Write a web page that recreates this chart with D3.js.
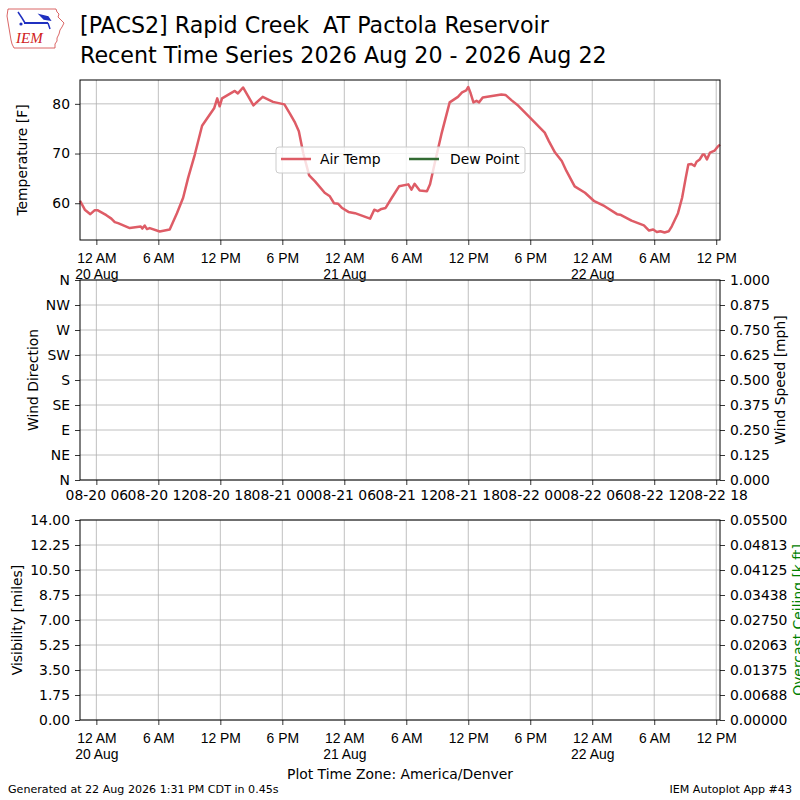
<!DOCTYPE html>
<html>
<head>
<meta charset="utf-8">
<script src="https://cdn.jsdelivr.net/npm/d3@7"></script>
<style>
body { margin: 0; background: #fff; }
svg { font-family: "DejaVu Sans", sans-serif; }
</style>
</head>
<body>
<svg id="chart" width="800" height="800"></svg>
<script>
// Air temperature obs, plot-local time (America/Denver)
var tempTimes = [
  "08-19 22:25", "08-19 22:53", "08-19 23:25", "08-19 23:51", "08-20 00:06", "08-20 00:58",
  "08-20 01:27", "08-20 01:47", "08-20 02:06", "08-20 03:14", "08-20 04:18", "08-20 04:27",
  "08-20 04:41", "08-20 04:54", "08-20 05:10", "08-20 06:08", "08-20 07:06", "08-20 07:48",
  "08-20 08:24", "08-20 08:53", "08-20 09:31", "08-20 10:14", "08-20 11:24", "08-20 11:42",
  "08-20 11:56", "08-20 12:10", "08-20 13:24", "08-20 13:42", "08-20 14:12", "08-20 15:12",
  "08-20 16:06", "08-20 17:06", "08-20 18:12", "08-20 18:45", "08-20 19:14", "08-20 19:36",
  "08-20 20:02", "08-20 20:36", "08-20 21:10", "08-20 22:06", "08-20 22:36", "08-20 23:00",
  "08-20 23:24", "08-20 23:45", "08-21 00:24", "08-21 01:02", "08-21 02:30", "08-21 02:54",
  "08-21 03:14", "08-21 03:36", "08-21 04:00", "08-21 04:36", "08-21 05:18", "08-21 06:12",
  "08-21 06:30", "08-21 06:48", "08-21 07:18", "08-21 08:00", "08-21 08:18", "08-21 08:48",
  "08-21 09:24", "08-21 10:12", "08-21 11:00", "08-21 11:24", "08-21 11:48", "08-21 12:00",
  "08-21 12:12", "08-21 12:30", "08-21 12:48", "08-21 13:03", "08-21 13:24", "08-21 15:12",
  "08-21 15:36", "08-21 16:12", "08-21 16:51", "08-21 18:00", "08-21 19:24", "08-21 19:48",
  "08-21 20:24", "08-21 21:03", "08-21 21:30", "08-21 22:18", "08-21 23:18", "08-22 00:12",
  "08-22 01:12", "08-22 02:24", "08-22 02:42", "08-22 03:48", "08-22 05:00", "08-22 05:30",
  "08-22 05:54", "08-22 06:15", "08-22 06:36", "08-22 07:00", "08-22 07:24", "08-22 07:42",
  "08-22 08:18", "08-22 08:42", "08-22 09:03", "08-22 09:18", "08-22 09:36", "08-22 09:54",
  "08-22 10:06", "08-22 10:24", "08-22 10:42", "08-22 10:51", "08-22 11:06", "08-22 11:24",
  "08-22 11:51", "08-22 12:12", "08-22 12:22"
];
var tempValues = [
  60.5, 58.7, 57.8, 58.6, 58.6, 57.6,
  56.9, 56.2, 56.0, 55.0, 55.3, 54.9,
  55.5, 54.8, 55.0, 54.3, 54.7, 58.0,
  61.1, 65.1, 69.7, 75.6, 79.1, 81.1,
  79.5, 81.1, 82.6, 82.1, 83.3, 79.7,
  81.4, 80.4, 79.9, 78.0, 76.2, 74.5,
  70.0, 65.6, 64.4, 62.1, 61.4, 60.0,
  59.9, 59.1, 58.25, 58.0, 56.9, 58.7,
  58.4, 58.85, 59.05, 61.1, 63.4, 63.8,
  62.75, 63.9, 62.55, 62.4, 63.8, 68.5,
  73.9, 80.3, 81.4, 82.3, 82.7, 83.4,
  82.3, 80.3, 80.6, 80.3, 81.3, 81.9,
  81.8, 80.7, 79.6, 77.2, 74.2, 72.5,
  70.2, 68.5, 66.5, 63.4, 62.1, 60.4,
  59.4, 57.8, 57.7, 56.5, 55.55, 54.5,
  54.7, 54.2, 54.35, 54.1, 54.35, 55.35,
  58.0, 61.1, 65.1, 67.8, 67.9, 67.5,
  68.35, 68.8, 69.8, 69.8, 68.8, 70.2,
  70.6, 71.5, 71.8
];
// no dew point reported
var dewTimes = [];
var dewValues = [];

var tempTicks = [60, 70, 80];
var dirTicks = [0, 45, 90, 135, 180, 225, 270, 315, 360];
var dirLabels = ["N", "NE", "E", "SE", "S", "SW", "W", "NW", "N"];
var speedTicks = [0, 0.125, 0.25, 0.375, 0.5, 0.625, 0.75, 0.875, 1.0];
var visTicks = [0, 1.75, 3.5, 5.25, 7, 8.75, 10.5, 12.25, 14];
var ceilTicks = [0, 0.006875, 0.01375, 0.020625, 0.0275, 0.034375, 0.04125, 0.048125, 0.055];
var ceilLabels = ["0.00000", "0.00688", "0.01375", "0.02063", "0.02750", "0.03438", "0.04125", "0.04813", "0.05500"];

var parse = d3.utcParse("%Y-%m-%d %H:%M");
var toDate = function(s){ return parse("2026-" + s); };
var temps = tempTimes.map(function(t, i){ return {t: toDate(t), v: tempValues[i]}; });
var dews = dewTimes.map(function(t, i){ return {t: toDate(t), v: dewValues[i]}; });

var svg = d3.select("#chart");
var L = 80, R = 720, FS = 13.9;
var gridColor = "#b0b0b0";

var x = d3.scaleUtc().domain(d3.extent(temps, function(d){ return d.t; })).range([L, R]);
var xTicks = d3.utcHour.every(6).range(toDate("08-20 00:00"), toDate("08-22 12:01"));

var yTemp = d3.scaleLinear().domain([52.6, 84.8]).range([240, 80]);
var yDir = d3.scaleLinear().domain([0, 360]).range([480, 280]);
var ySpeed = d3.scaleLinear().domain([0, 1]).range([480, 280]);
var yVis = d3.scaleLinear().domain([0, 14]).range([720, 520]);
var yCeil = d3.scaleLinear().domain([0, 0.055]).range([720, 520]);

function grid(yScale, yValues, top, bottom){
  var g = svg.append("g").attr("stroke", gridColor).attr("stroke-width", 0.8);
  g.selectAll("line.v").data(xTicks).enter().append("line")
    .attr("x1", function(d){ return x(d); }).attr("x2", function(d){ return x(d); })
    .attr("y1", top).attr("y2", bottom);
  g.selectAll("line.h").data(yValues).enter().append("line")
    .attr("x1", L).attr("x2", R)
    .attr("y1", function(d){ return yScale(d); }).attr("y2", function(d){ return yScale(d); });
}

function styleAxis(g){
  g.select(".domain").remove();
  g.selectAll(".tick line").attr("stroke", "#000").attr("stroke-width", 0.8);
  g.selectAll(".tick text").attr("fill", "#000").attr("font-size", FS)
    .attr("font-family", "DejaVu Sans");
}

function spine(top, bottom){
  svg.append("rect").attr("x", L).attr("y", top).attr("width", R - L).attr("height", bottom - top)
    .attr("fill", "none").attr("stroke", "#000").attr("stroke-width", 1);
}

function localTimeAxis(bottom){
  var g = svg.append("g").attr("transform", "translate(0," + bottom + ")")
    .call(d3.axisBottom(x).tickValues(xTicks).tickSize(5).tickPadding(5).tickFormat(""));
  styleAxis(g);
  g.selectAll(".tick").append("text")
    .attr("fill", "#000").attr("font-size", FS).attr("text-anchor", "middle")
    .each(function(d){
      var t = d3.select(this);
      t.append("tspan").attr("x", 0).attr("y", 23).text(d3.utcFormat("%-I %p")(d));
      if (d.getUTCHours() === 0) {
        t.append("tspan").attr("x", 0).attr("y", 39).text(d3.utcFormat("%-d %b")(d));
      }
    });
}

function label(text, px, py, color){
  svg.append("text").attr("transform", "translate(" + px + "," + py + ") rotate(-90)")
    .attr("text-anchor", "middle").attr("font-size", FS).attr("fill", color || "#000").text(text);
}

// --- Temperature panel
grid(yTemp, tempTicks, 80, 240);
var line = d3.line().x(function(d){ return x(d.t); }).y(function(d){ return yTemp(d.v); });
svg.append("path").datum(temps).attr("d", line).attr("fill", "none")
  .attr("stroke", "#de5c66").attr("stroke-width", 2.5).attr("stroke-linejoin", "round");
svg.append("path").datum(dews).attr("d", line).attr("fill", "none")
  .attr("stroke", "#336b33").attr("stroke-width", 2.5);
spine(80, 240);
styleAxis(svg.append("g").attr("transform", "translate(" + L + ",0)")
  .call(d3.axisLeft(yTemp).tickValues(tempTicks).tickSize(5).tickPadding(5)));
localTimeAxis(240);
label("Temperature [F]", 27, 160);

var lg = svg.append("g");
lg.append("rect").attr("x", 276).attr("y", 147).attr("width", 249).attr("height", 26).attr("rx", 3)
  .attr("fill", "#fff").attr("fill-opacity", 0.8).attr("stroke", "#cccccc").attr("stroke-width", 1);
lg.append("line").attr("x1", 281).attr("x2", 311).attr("y1", 159).attr("y2", 159)
  .attr("stroke", "#de5c66").attr("stroke-width", 2.5);
lg.append("text").attr("x", 320).attr("y", 164).attr("font-size", FS).text("Air Temp");
lg.append("line").attr("x1", 409).attr("x2", 439).attr("y1", 159).attr("y2", 159)
  .attr("stroke", "#336b33").attr("stroke-width", 2.5);
lg.append("text").attr("x", 450).attr("y", 164).attr("font-size", FS).text("Dew Point");

// --- Wind panel (empty)
grid(yDir, dirTicks, 280, 480);
spine(280, 480);
styleAxis(svg.append("g").attr("transform", "translate(" + L + ",0)")
  .call(d3.axisLeft(yDir).tickValues(dirTicks).tickSize(5).tickPadding(5)
    .tickFormat(function(d, i){ return dirLabels[i]; })));
styleAxis(svg.append("g").attr("transform", "translate(" + R + ",0)")
  .call(d3.axisRight(ySpeed).tickValues(speedTicks).tickSize(5).tickPadding(5).tickFormat(d3.format(".3f"))));
var utcFmt = d3.utcFormat("%m-%d %H");
styleAxis(svg.append("g").attr("transform", "translate(0,480)")
  .call(d3.axisBottom(x).tickValues(xTicks).tickSize(5).tickPadding(5)
    .tickFormat(function(d){ return utcFmt(d3.utcHour.offset(d, 6)); })));
label("Wind Direction", 38, 380);
label("Wind Speed [mph]", 785, 380);

// --- Visibility panel (empty)
grid(yVis, visTicks, 520, 720);
spine(520, 720);
styleAxis(svg.append("g").attr("transform", "translate(" + L + ",0)")
  .call(d3.axisLeft(yVis).tickValues(visTicks).tickSize(5).tickPadding(5).tickFormat(d3.format(".2f"))));
styleAxis(svg.append("g").attr("transform", "translate(" + R + ",0)")
  .call(d3.axisRight(yCeil).tickValues(ceilTicks).tickSize(5).tickPadding(5)
    .tickFormat(function(d, i){ return ceilLabels[i]; })));
localTimeAxis(720);
label("Visibility [miles]", 22, 620);
label("Overcast Ceiling [k ft]", 803, 620, "green");

svg.append("text").attr("x", 400).attr("y", 779).attr("text-anchor", "middle").attr("font-size", FS)
  .text("Plot Time Zone: America/Denver");

// --- Titles and footer
svg.append("text").attr("x", 80).attr("y", 33).attr("font-size", 22.2)
  .text("[PACS2] Rapid Creek  AT Pactola Reservoir").attr("xml:space", "preserve").style("white-space", "pre");
svg.append("text").attr("x", 80).attr("y", 63).attr("font-size", 22.2)
  .text("Recent Time Series 2026 Aug 20 - 2026 Aug 22");
svg.append("text").attr("x", 8).attr("y", 793).attr("font-size", 11.1)
  .text("Generated at 22 Aug 2026 1:31 PM CDT in 0.45s");
svg.append("text").attr("x", 792).attr("y", 793).attr("text-anchor", "end").attr("font-size", 11.1)
  .text("IEM Autoplot App #43");

// --- IEM logo (simplified)
var logo = svg.append("g");
logo.append("path")
  .attr("d", "M8,9 L56,9 L57,12 L59,14 L58,17 L61,20 L64,23 L62,27 L60,30 L59,34 L57,38 L57,41 L55,44 L55,48 L14,48 L12,44 L11,40 L10,34 L9,28 L8,22 L7,16 Z")
  .attr("fill", "none").attr("stroke", "#d04040").attr("stroke-width", 0.8);
logo.append("line").attr("x1", 24).attr("x2", 48).attr("y1", 23).attr("y2", 23)
  .attr("stroke", "#2030c0").attr("stroke-width", 2);
logo.append("path").attr("d", "M18,12 L22,18 L25,23 M48,23 L50,29 M40,15 L48,17 L50,20 L44,19 Z")
  .attr("fill", "#2030c0").attr("stroke", "#2030c0").attr("stroke-width", 1.5);
logo.append("circle").attr("cx", 21).attr("cy", 24).attr("r", 1.6).attr("fill", "#2030c0");
logo.append("text").attr("x", 16).attr("y", 43).attr("font-family", "Liberation Serif, serif")
  .attr("font-style", "italic").attr("font-size", 15).attr("fill", "#d02020").text("IEM");
</script>
</body>
</html>
